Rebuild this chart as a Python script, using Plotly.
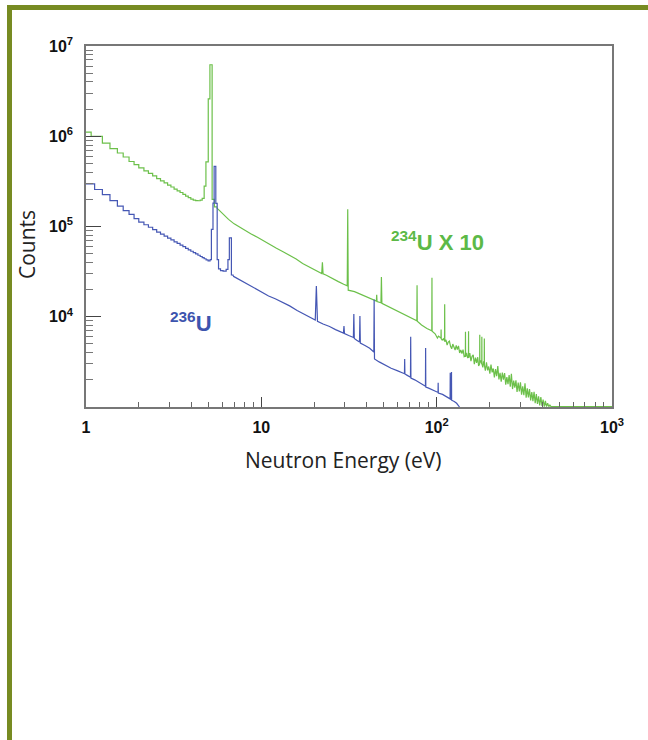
import plotly.graph_objects as go

# ---------------- data ----------------
# 234U x 10 : low-energy histogram part (left bin edges in eV, counts)
green_hist_energy = [
    1.00, 1.07, 1.24, 1.37, 1.51, 1.63, 1.76, 1.88, 2.00, 2.14, 2.27, 2.40, 2.53, 2.66,
    2.79, 2.92, 3.05, 3.18, 3.31, 3.44, 3.57, 3.70, 3.83, 3.96, 4.09, 4.22, 4.35, 4.48,
    4.60, 4.72, 4.83, 4.98, 5.09, 5.24, 5.40, 5.55,
]
green_hist_counts = [
    1.11e6, 9.95e5, 8.41e5, 7.28e5, 6.52e5, 5.89e5, 5.25e5, 4.84e5, 4.46e5, 4.14e5,
    3.87e5, 3.63e5, 3.39e5, 3.21e5, 3.04e5, 2.88e5, 2.74e5, 2.60e5, 2.48e5, 2.38e5,
    2.27e5, 2.17e5, 2.09e5, 2.01e5, 1.96e5, 1.94e5, 1.93e5, 1.96e5, 2.05e5, 2.8e5,
    5.2e5, 2.6e6, 6.2e6, 2.0e5, 1.65e5, 1.62e5,
]
# 234U x 10 : finely binned part above 5.55 eV
green_energy = [
    5.55, 5.8, 6.1, 6.5, 7.0, 7.5, 8.0, 8.7, 9.5, 10.3, 11.2, 12.2, 13.3, 14.5, 15.8,
    17.2, 18.8, 20.5, 22.1, 22.3, 22.5, 23.5, 25.5, 27.5, 29.5, 30.9, 31.1, 31.3, 34,
    37.5, 40, 42, 44, 45.3, 45.5, 45.7, 48.1, 48.4, 48.7, 52, 56, 60, 65, 70, 74, 77.1,
    77.3, 77.5, 82, 88, 93.8, 94.0, 94.2, 98, 99.5, 101, 102.5, 104, 105.8, 106.0,
    106.2, 107.5, 109.2, 110.9, 111.1, 111.3,
    113, 114.7, 116.4, 118.2, 120, 121.8, 123.6, 125.5, 127.4, 129.3, 131.2, 133.2,
    135.2, 137.2, 139.3, 141.4, 143.5, 145.8, 146.0, 146.2, 148.1, 150.3, 151.8, 152.0,
    152.2, 154.5, 156.8, 159.2, 161.6, 164, 166.5, 169, 171.5, 173.5, 175.9, 176.1,
    176.3, 178.2, 180.8, 181.0, 181.2, 183.4, 185.2, 186.8, 187.0, 187.2, 189.5, 192.3,
    195.2, 198.1, 201.1, 204.1, 207.2, 210.3, 213.4, 216.6, 219.9, 223.2, 226.5, 229.9,
    233.4, 236.9, 240.4, 244, 247.7, 251.4, 255.2, 259, 262.9, 266.8, 270.8, 274.9, 279,
    283.2, 287.4, 291.7, 296.1, 300.5, 305, 309.6, 314.3, 319, 323.8, 328.6, 333.5,
    338.5, 343.6, 348.8, 354, 359.3, 364.7, 370.2, 375.7, 381.3, 387, 392.8, 398.7,
    404.7, 410.8, 417, 423.2, 429.5, 436, 442.5, 449, 456, 463, 1000,
]
green_counts = [
    1.62e5, 1.48e5, 1.35e5, 1.20e5, 1.07e5, 9.8e4, 9.1e4, 8.3e4, 7.6e4, 6.9e4, 6.3e4,
    5.75e4, 5.25e4, 4.8e4, 4.37e4, 3.9e4, 3.55e4, 3.24e4, 3.02e4, 4.0e4, 2.99e4, 2.88e4,
    2.63e4, 2.45e4, 2.29e4, 2.2e4, 1.55e5, 1.97e4, 1.9e4, 1.74e4, 1.66e4, 1.58e4, 1.51e4,
    1.49e4, 1.75e4, 1.47e4, 1.43e4, 2.75e4, 1.41e4, 1.32e4, 1.23e4, 1.15e4, 1.07e4,
    9.8e3, 9.3e3, 9.0e3, 2.24e4, 8.9e3, 8.1e3, 7.4e3, 7.0e3, 2.7e4, 6.9e3, 6.47e3,
    6.2e3, 5.82e3, 6.1e3, 5.9e3, 5.8e3, 7.2e3, 5.7e3, 5.51e3, 5.7e3, 5.4e3, 1.38e4,
    5.3e3,
    5.56e3, 4.86e3, 5.24e3, 5.38e3, 4.71e3, 4.42e3, 4.98e3, 4.67e3, 4.28e3, 4.82e3,
    4.32e3, 4.75e3, 3.97e3, 4.28e3, 3.92e3, 4.32e3, 3.61e3, 3.7e3, 6.8e3, 3.6e3, 3.99e3,
    3.49e3, 3.6e3, 6.9e3, 3.5e3, 3.95e3, 3.23e3, 3.64e3, 3.78e3, 2.99e3, 3.52e3, 3.08e3,
    3.56e3, 2.85e3, 3.0e3, 6.3e3, 3.1e3, 3.27e3, 3.0e3, 6.0e3, 3.0e3, 2.75e3, 3.20e3,
    3.0e3, 5.75e3, 2.9e3, 2.52e3, 3.12e3, 2.55e3, 2.81e3, 2.34e3, 2.96e3, 2.42e3,
    2.67e3, 2.13e3, 2.63e3, 2.20e3, 2.84e3, 2.02e3, 2.39e3, 1.91e3, 2.41e3, 2.01e3,
    2.38e3, 1.77e3, 2.14e3, 1.79e3, 2.26e3, 1.68e3, 2.33e3, 1.58e3, 1.96e3, 1.64e3,
    1.98e3, 1.47e3, 1.86e3, 1.49e3, 1.88e3, 1.37e3, 1.69e3, 1.35e3, 1.83e3, 1.27e3,
    1.61e3, 1.28e3, 1.58e3, 1.18e3, 1.46e3, 1.16e3, 1.47e3, 1.10e3, 1.39e3, 1.08e3,
    1.31e3, 1.04e3, 1.29e3, 1.03e3, 1.21e3, 1.01e3, 1.17e3, 1.01e3, 1.10e3, 1.01e3,
    1.05e3, 1.01e3, 1.02e3, 1.01e3, 1.01e3,
]

# 236U : low-energy histogram part (left bin edges in eV, counts)
blue_hist_energy = [
    1.00, 1.12, 1.24, 1.37, 1.51, 1.63, 1.76, 1.88, 2.00, 2.14, 2.27, 2.40, 2.53, 2.66,
    2.79, 2.92, 3.05, 3.18, 3.31, 3.44, 3.57, 3.70, 3.83, 3.96, 4.09, 4.22, 4.35, 4.48,
    4.60, 4.72, 4.84, 4.97, 5.10, 5.19, 5.30, 5.38, 5.50, 5.60, 5.70, 5.85, 6.05, 6.30,
    6.45, 6.57, 6.75, 6.9,
]
blue_hist_counts = [
    2.97e5, 2.57e5, 2.26e5, 1.94e5, 1.68e5, 1.50e5, 1.36e5, 1.22e5, 1.12e5, 1.046e5,
    9.81e4, 9.23e4, 8.68e4, 8.25e4, 7.83e4, 7.44e4, 7.10e4, 6.76e4, 6.49e4, 6.22e4,
    5.97e4, 5.72e4, 5.51e4, 5.32e4, 5.14e4, 4.97e4, 4.80e4, 4.65e4, 4.51e4, 4.39e4,
    4.27e4, 4.17e4, 4.3e4, 9.3e4, 1.82e5, 4.64e5, 1.8e5, 4.3e4, 3.4e4, 3.25e4, 3.2e4,
    3.35e4, 4.3e4, 7.5e4, 2.9e4, 2.82e4,
]
# 236U : finely binned part above 6.9 eV
blue_energy = [
    6.9, 7.5, 8.2, 9.0, 10, 11, 12, 13.2, 14.5, 16, 17.5, 19, 20.3, 20.6, 20.9, 22.5,
    24.5, 26.5, 28.5, 29.4, 29.6, 29.8, 31.5, 33.5, 33.7, 33.9, 35, 36.3, 36.5, 36.7, 39,
    41.5, 43.8, 44.0, 44.2, 47, 50, 55, 60, 65.5, 65.7, 65.9, 68, 70.9, 71.1, 71.3, 75,
    80, 86.3, 86.5, 86.7, 90, 95, 101.8, 102.0, 102.2, 108, 114, 119.3, 119.5, 119.7,
    121.3, 121.5, 121.7, 126, 130, 135,
]
blue_counts = [
    2.82e4, 2.57e4, 2.34e4, 2.09e4, 1.86e4, 1.70e4, 1.58e4, 1.45e4, 1.32e4, 1.17e4,
    1.07e4, 9.8e3, 9.2e3, 2.19e4, 8.9e3, 8.3e3, 7.8e3, 7.2e3, 6.8e3, 6.6e3, 7.9e3, 6.5e3,
    6.2e3, 5.9e3, 1.07e4, 5.75e3, 5.5e3, 5.25e3, 1.02e4, 5.1e3, 4.8e3, 4.47e3, 4.07e3,
    1.55e4, 3.4e3, 3.16e3, 2.95e3, 2.69e3, 2.51e3, 2.34e3, 3.4e3, 2.32e3, 2.24e3, 2.14e3,
    6.0e3, 2.09e3, 2.0e3, 1.86e3, 1.70e3, 4.5e3, 1.66e3, 1.62e3, 1.55e3, 1.45e3, 1.86e3,
    1.43e3, 1.38e3, 1.29e3, 1.23e3, 2.4e3, 1.22e3, 1.20e3, 2.45e3, 1.19e3, 1.15e3,
    1.10e3, 1.0e3,
]

assert len(green_hist_energy) == len(green_hist_counts)
assert len(green_energy) == len(green_counts), (len(green_energy), len(green_counts))
assert len(blue_hist_energy) == len(blue_hist_counts)
assert len(blue_energy) == len(blue_counts)

x_tick_vals = [1, 10, 100, 1000]
x_tick_text = ["1", "10", "10<sup>2</sup>", "10<sup>3</sup>"]
y_tick_vals = [1e4, 1e5, 1e6, 1e7]
y_tick_text = ["10<sup>4</sup>", "10<sup>5</sup>", "10<sup>6</sup>", "10<sup>7</sup>"]
x_minor_vals = [m * d for d in (1, 10, 100) for m in range(2, 10)]
y_minor_vals = [m * d for d in (1e3, 1e4, 1e5, 1e6) for m in range(2, 10)]

label_234 = "<sup>234</sup>U X 10"
label_236 = "<sup>236</sup>U"
x_title = "Neutron Energy (eV)"
y_title = "Counts"

# ---------------- layout helpers ----------------
W, H = 648, 740
ML, MR, MT, MB = 86, 36, 46, 333
PW, PH = W - ML - MR, H - MT - MB


def px(x):
    return (x - ML) / PW


def py(y):
    return (H - MB - y) / PH


GREEN_LINE = "#6cc04a"
BLUE_LINE = "#4557b4"
GREEN_TXT = "#5cb947"
BLUE_TXT = "#3d54ae"
FRAME = "#778b22"

fig = go.Figure()
fig.add_trace(go.Scatter(x=green_hist_energy, y=green_hist_counts, mode="lines",
                         line=dict(color=GREEN_LINE, width=1.2, shape="hv"),
                         showlegend=False, hoverinfo="skip"))
fig.add_trace(go.Scatter(x=green_energy, y=green_counts, mode="lines",
                         line=dict(color=GREEN_LINE, width=1.2),
                         showlegend=False, hoverinfo="skip"))
fig.add_trace(go.Scatter(x=blue_hist_energy, y=blue_hist_counts, mode="lines",
                         line=dict(color=BLUE_LINE, width=1.2, shape="hv"),
                         showlegend=False, hoverinfo="skip"))
fig.add_trace(go.Scatter(x=blue_energy, y=blue_counts, mode="lines",
                         line=dict(color=BLUE_LINE, width=1.2),
                         showlegend=False, hoverinfo="skip"))

tick_font = dict(family="Liberation Sans, Arial, sans-serif", size=16, color="#111", weight="bold")
title_font = dict(family="Open Sans, sans-serif", size=21, color="#222")

fig.update_xaxes(type="log", range=[0, 3], showline=True, linecolor="#777", linewidth=1.5,
                 mirror=True, ticks="inside", ticklen=10, tickwidth=1, tickcolor="#444",
                 tickmode="array", tickvals=x_tick_vals, ticktext=x_tick_text,
                 tickfont=tick_font, showgrid=False, zeroline=False,
                 ticklabelstandoff=5,
                 minor=dict(tickmode="array", tickvals=x_minor_vals, ticks="inside",
                            ticklen=5, tickwidth=1, tickcolor="#666", showgrid=False))
fig.update_yaxes(type="log", range=[3, 7], showline=True, linecolor="#777", linewidth=1.5,
                 mirror=True, ticks="inside", ticklen=15, tickwidth=1, tickcolor="#444",
                 tickmode="array", tickvals=y_tick_vals, ticktext=y_tick_text,
                 tickfont=tick_font, showgrid=False, zeroline=False,
                 ticklabelstandoff=8,
                 minor=dict(tickmode="array", tickvals=y_minor_vals, ticks="inside",
                            ticklen=7, tickwidth=1, tickcolor="#777", showgrid=False))

fig.update_layout(
    width=W, height=H, autosize=False,
    margin=dict(l=ML, r=MR, t=MT, b=MB, pad=0),
    paper_bgcolor="white", plot_bgcolor="white",
    shapes=[
        dict(type="rect", xref="paper", yref="paper", x0=px(7), x1=px(650), y0=py(10), y1=py(5),
             fillcolor=FRAME, line=dict(width=0), layer="above"),
        dict(type="rect", xref="paper", yref="paper", x0=px(7), x1=px(12), y0=py(742), y1=py(5),
             fillcolor=FRAME, line=dict(width=0), layer="above"),
    ],
    annotations=[
        dict(text=x_title, xref="paper", yref="paper", x=px(343), y=py(460),
             xanchor="center", yanchor="middle", showarrow=False, font=title_font),
        dict(text=y_title, xref="paper", yref="paper", x=px(27), y=py(245),
             xanchor="center", yanchor="middle", showarrow=False, textangle=-90,
             font=title_font),
        dict(text=label_234, xref="paper", yref="paper", x=px(437), y=py(241),
             xanchor="center", yanchor="middle", showarrow=False,
             font=dict(family="Liberation Sans, Arial, sans-serif", size=22, color=GREEN_TXT, weight="bold")),
        dict(text=label_236, xref="paper", yref="paper", x=px(191), y=py(322),
             xanchor="center", yanchor="middle", showarrow=False,
             font=dict(family="Liberation Sans, Arial, sans-serif", size=22, color=BLUE_TXT, weight="bold")),
    ],
)

fig.write_html("out.html", config={"displayModeBar": False},
               post_script="document.body.style.margin='0';document.body.style.overflow='hidden';")
